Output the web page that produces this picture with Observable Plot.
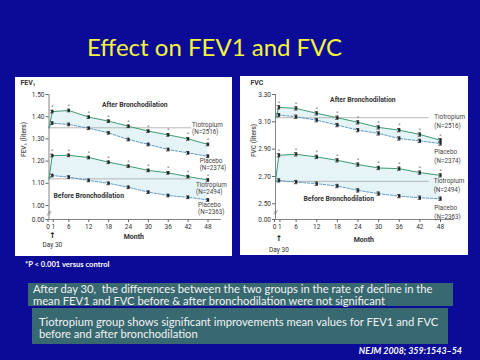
<!DOCTYPE html>
<html>
<head>
<meta charset="utf-8">
<script src="https://cdn.jsdelivr.net/npm/d3@7"></script>
<script src="https://cdn.jsdelivr.net/npm/@observablehq/plot@0.6"></script>
<style>
  html, body { margin: 0; padding: 0; }
  #slide { position: relative; width: 480px; height: 360px; background: #0b0b98; overflow: hidden; font-family: Lato, "Open Sans", sans-serif; }
  .abs { position: absolute; white-space: nowrap; }
  #title { left: 87px; top: 33px; font-size: 24px; color: #f4f43c; line-height: 28px; }
  .panel { position: absolute; background: #fff; }
  .panel svg { display: block; }
  #pnote { left: 25px; top: 259px; font-size: 7.6px; font-weight: bold; color: #fff; }
  .box { position: absolute; background: #386971; color: #f2f2f2; font-size: 11.2px; white-space: pre; }
  #box1 { left: 28px; top: 283px; width: 425px; height: 23px; line-height: 11.5px; }
  #box1 div { padding-left: 5px; padding-top: 0px; }
  #box2 { left: 32px; top: 308px; width: 416px; height: 36px; line-height: 12px; }
  #box2 div { padding-left: 7px; padding-top: 8px; }
  #cite { right: 18px; top: 345px; font-size: 8.9px; font-weight: bold; font-style: italic; color: #fff; }
</style>
</head>
<body>
<div id="slide">
  <div id="title" class="abs"></div>
  <div id="leftPanel" class="panel" style="left:15px;top:77px;width:217px;height:179px"></div>
  <div id="rightPanel" class="panel" style="left:240px;top:76px;width:228px;height:179px"></div>
  <div id="pnote" class="abs"></div>
  <div id="box1" class="box"><div></div></div>
  <div id="box2" class="box"><div></div></div>
  <div id="cite" class="abs"></div>
</div>
<script>
// ---------- data ----------
const months = [0, 1, 6, 12, 18, 24, 30, 36, 42, 48];
const monthTicks = [0, 1, 6, 12, 18, 24, 30, 36, 42, 48];

const fev1Ticks = [0, 1.0, 1.1, 1.2, 1.3, 1.4, 1.5];
const fev1AfterTio  = [1.35, 1.423, 1.428, 1.398, 1.380, 1.357, 1.335, 1.318, 1.300, 1.275];
const fev1AfterPla  = [1.35, 1.371, 1.365, 1.348, 1.327, 1.297, 1.275, 1.252, 1.237, 1.222];
const fev1BeforeTio = [1.12, 1.225, 1.226, 1.216, 1.195, 1.177, 1.158, 1.147, 1.130, 1.115];
const fev1BeforePla = [1.12, 1.135, 1.128, 1.113, 1.100, 1.082, 1.060, 1.045, 1.037, 1.025];
const fev1Baselines = [1.35, 1.12];
const fev1SE = 0.006;

const fvcTicks = [0, 2.5, 2.7, 2.9, 3.1, 3.3];
const fvcAfterTio  = [3.13, 3.206, 3.198, 3.162, 3.130, 3.096, 3.059, 3.039, 3.007, 2.965];
const fvcAfterPla  = [3.13, 3.149, 3.137, 3.112, 3.076, 3.039, 3.015, 2.978, 2.960, 2.941];
const fvcBeforeTio = [2.665, 2.855, 2.862, 2.843, 2.818, 2.787, 2.762, 2.757, 2.728, 2.708];
const fvcBeforePla = [2.665, 2.671, 2.659, 2.647, 2.630, 2.598, 2.574, 2.556, 2.544, 2.537];
const fvcBaselines = [3.13, 2.664];
const fvcSE = 0.012;

const groupLabels = ["Tiotropium\n(N=2516)", "Placebo\n(N=2374)", "Tiotropium\n(N=2494)", "Placebo\n(N=2363)"];
const phaseLabels = ["After Bronchodilation", "Before Bronchodilation"];
const titleText = "Effect on FEV1 and FVC";
const pNoteText = "*P < 0.001 versus control";
const box1Lines = ["After day 30,  the differences between the two groups in the rate of decline in the", "mean FEV1 and FVC before & after bronchodilation were not significant"];
const box2Lines = ["Tiotropium group shows significant improvements mean values for FEV1 and FVC", "before and after bronchodilation"];
const citeText = "NEJM 2008; 359:1543\u201354";

// ---------- slide text ----------
document.getElementById("title").textContent = titleText;
document.getElementById("pnote").textContent = pNoteText;
document.querySelector("#box1 div").textContent = box1Lines.join("\n");
document.querySelector("#box2 div").textContent = box2Lines.join("\n");
document.getElementById("cite").textContent = citeText;

// ---------- chart builder ----------
const GREEN = "#3f9d72";
const BLUE = "#4b8fbf";
const INK = "#333";
const SHADE = "#e4f4f7";

function buildChart(c) {
  const rows = months.map((m, i) => ({m, at: c.afterTio[i], ap: c.afterPla[i], bt: c.beforeTio[i], bp: c.beforePla[i]}));
  const pts = rows.filter(d => d.m > 0);
  const se = c.se;
  // the axis is broken: its "0.00" tick sits just below the first real tick
  const tickPos = c.yTicks.map(v => v === 0 ? c.yZero : v);
  const errMarks = (key) => [
    Plot.ruleX(pts, {x: "m", y1: d => d[key] - se, y2: d => d[key] + se, stroke: "#222", strokeWidth: 0.8}),
    Plot.ruleY(pts, {y: d => d[key] + se, x1: d => d.m - 0.5, x2: d => d.m + 0.5, stroke: "#222", strokeWidth: 0.8}),
    Plot.ruleY(pts, {y: d => d[key] - se, x1: d => d.m - 0.5, x2: d => d.m + 0.5, stroke: "#222", strokeWidth: 0.8}),
    Plot.dot(pts, {x: "m", y: key, symbol: "square", r: 1.3, fill: "#222"})
  ];
  const labelRows = groupLabels.map((t, i) => ({t, x: c.labelX[i], y: c.labelY[i]}));
  const axisXOpts = {tickSize: 3, tickPadding: 2, label: null, stroke: "#666", tickFormat: d => String(d)};
  return Plot.plot({
    width: c.width, height: c.height,
    marginLeft: c.ml, marginRight: c.mr, marginTop: c.mt, marginBottom: c.mb,
    style: {background: "white", fontFamily: "Roboto, 'Open Sans', sans-serif", fontSize: "6.5px", color: INK},
    x: {domain: [0, 48]},
    y: {domain: [c.yZero, c.yTop]},
    marks: [
      Plot.areaY(rows, {x: "m", y1: "ap", y2: "at", fill: SHADE}),
      Plot.areaY(rows, {x: "m", y1: "bp", y2: "bt", fill: SHADE}),
      Plot.ruleY(c.baselines, {x1: 0, x2: c.baseEnd, stroke: "#b0b0b0", strokeWidth: 0.9}),
      Plot.ruleX([0], {y1: c.yZero, y2: c.yTop, stroke: "#666", strokeWidth: 0.8}),
      Plot.ruleY([c.yZero], {x1: 0, x2: 52, stroke: "#666", strokeWidth: 0.8}),
      Plot.text(["//"], {x: 0, y: c.breakY, fontSize: 6, fill: "#555", fontStyle: "italic"}),
      Plot.axisY({ticks: tickPos, tickFormat: v => (v === c.yZero ? 0 : v).toFixed(2), tickSize: 3, tickPadding: 1.5, label: null, stroke: "#666"}),
      Plot.axisX({...axisXOpts, ticks: monthTicks.filter(t => t > 1)}),
      Plot.axisX({...axisXOpts, ticks: monthTicks.filter(t => t === 0), dx: -1}),
      Plot.axisX({...axisXOpts, ticks: monthTicks.filter(t => t === 1), dx: 1}),
      Plot.line(rows, {x: "m", y: "ap", stroke: BLUE, strokeWidth: 0.9, strokeDasharray: "2.5,1.5"}),
      Plot.line(rows, {x: "m", y: "bp", stroke: BLUE, strokeWidth: 0.9, strokeDasharray: "2.5,1.5"}),
      Plot.line(rows, {x: "m", y: "at", stroke: GREEN, strokeWidth: 1}),
      Plot.line(rows, {x: "m", y: "bt", stroke: GREEN, strokeWidth: 1}),
      ...errMarks("ap"), ...errMarks("bp"), ...errMarks("at"), ...errMarks("bt"),
      Plot.text(pts, {x: "m", y: d => d.at + se, text: () => "*", dy: -3, fontSize: 6, fill: "#777"}),
      Plot.text(pts, {x: "m", y: d => d.bt + se, text: () => "*", dy: -3, fontSize: 6, fill: "#777"}),
      Plot.text(labelRows, {x: "x", y: "y", text: "t", textAnchor: "start", fontSize: 6.3, lineHeight: c.lh, fill: "#444"}),
      Plot.text([phaseLabels[0]], {x: c.afterPos[0], y: c.afterPos[1], fontSize: 6.8, fontWeight: "bold", fill: "#333"}),
      Plot.text([phaseLabels[1]], {x: c.beforePos[0], y: c.beforePos[1], fontSize: 6.8, fontWeight: "bold", fill: "#333"}),
      Plot.text(["Month"], {x: c.monthX, frameAnchor: "bottom", dy: c.monthDy, fontSize: 7, fontWeight: "bold", fill: "#333"}),
      Plot.text(["\u2191"], {x: 1, frameAnchor: "bottom", dy: c.arrowDy, fontSize: 8, fontWeight: "bold", fill: "#111", fontFamily: "DejaVu Sans"}),
      Plot.text(["Day 30"], {x: 1, frameAnchor: "bottom", dy: c.dayDy, fontSize: 6.5, fill: "#333"}),
      Plot.text([c.panelTitle], {frameAnchor: "top-left", dx: c.ptDx, dy: c.ptDy, lineAnchor: "top", textAnchor: "start", fontSize: 7, fontWeight: "bold", fill: "#333"}),
      Plot.text([c.yTitle], {frameAnchor: "left", dx: c.ytDx, rotate: -90, fontSize: 6.5, fontWeight: "bold", fill: "#666"})
    ]
  });
}

const left = buildChart({
  width: 217, height: 179, ml: 33.5, mr: 24.5, mt: 17, mb: 37,
  yZero: 0.937, yTop: 1.5, yTicks: fev1Ticks, breakY: 0.968,
  afterTio: fev1AfterTio, afterPla: fev1AfterPla, beforeTio: fev1BeforeTio, beforePla: fev1BeforePla,
  se: fev1SE, baselines: fev1Baselines, baseEnd: 43,
  labelX: [43.2, 45.5, 44.4, 45], labelY: [1.349, 1.186, 1.077, 0.989], lh: 1.15,
  afterPos: [25.9, 1.455], beforePos: [12, 1.045],
  monthX: 25.6, monthDy: 19, arrowDy: 18.5, dayDy: 27,
  panelTitle: "FEV\u2081", ptDx: -28.5, ptDy: -14,
  yTitle: "FEV\u2081 (liters)", ytDx: -25.5
});
document.getElementById("leftPanel").appendChild(left);

const right = buildChart({
  width: 228, height: 179, ml: 35, mr: 28, mt: 18, mb: 36,
  yZero: 2.385, yTop: 3.3, yTicks: fvcTicks, breakY: 2.44,
  afterTio: fvcAfterTio, afterPla: fvcAfterPla, beforeTio: fvcBeforeTio, beforePla: fvcBeforePla,
  se: fvcSE, baselines: fvcBaselines, baseEnd: 44.7,
  labelX: [46.2, 46.2, 46.0, 46.2], labelY: [3.109, 2.855, 2.637, 2.445], lh: 1.4,
  afterPos: [25.4, 3.26], beforePos: [18.4, 2.539],
  monthX: 25.7, monthDy: 22, arrowDy: 21, dayDy: 32,
  panelTitle: "FVC", ptDx: -25, ptDy: -14,
  yTitle: "FVC (liters)", ytDx: -22
});
document.getElementById("rightPanel").appendChild(right);
</script>
</body>
</html>
